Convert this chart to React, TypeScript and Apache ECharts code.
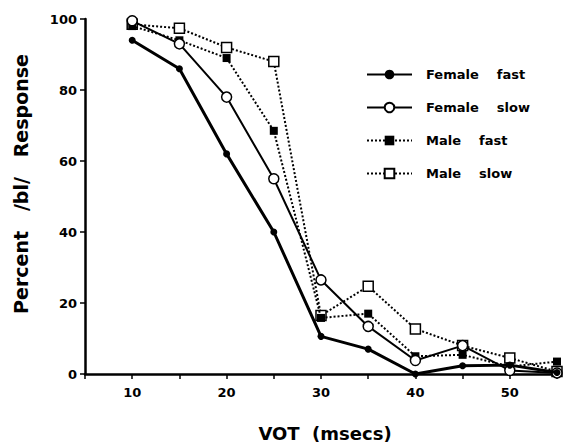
import React, { useEffect, useRef } from "react";
import * as echarts from "echarts";

const vot = [10, 15, 20, 25, 30, 35, 40, 45, 50, 55];
const femaleFast = [94, 86, 62, 40, 10.6, 7, 0, 2.3, 2.5, 0.4];
const femaleSlow = [99.5, 93, 78, 55, 26.5, 13.4, 3.8, 8, 1, 0.3];
const maleFast = [98, 94, 89, 68.5, 15.8, 17, 5, 5.4, 2.1, 3.5];
const maleSlow = [98.5, 97.4, 92, 88, 16.5, 24.7, 12.7, 8, 4.5, 0.7];
const xTicks = [10, 20, 30, 40, 50];
const yTicks = [0, 20, 40, 60, 80, 100];
const seriesNames = ["Female    fast", "Female    slow", "Male    fast", "Male    slow"];
const xTitle = "VOT  (msecs)";
const yTitle = "Percent   /bl/   Response";

const FONT = "DejaVu Sans";

export default function App() {
  const ref = useRef<HTMLDivElement>(null);
  useEffect(() => {
    if (!ref.current) return;
    const chart = echarts.init(ref.current, null, { renderer: "svg" });
    const pair = (arr: number[]) => vot.map((v, i) => [v, arr[i]]);
    chart.setOption({
      animation: false,
      backgroundColor: "#ffffff",
      grid: { left: 85, right: 6, top: 19, bottom: 70 },
      legend: {
        orient: "vertical",
        left: 366,
        top: 68,
        padding: 0,
        itemWidth: 45,
        itemHeight: 12,
        itemGap: 20,
        textStyle: {
          fontFamily: FONT,
          fontWeight: "bold",
          fontSize: 13,
          color: "#000",
          padding: [0, 0, 0, 9],
        },
        data: seriesNames,
      },
      graphic: [
        {
          type: "text",
          x: 325,
          y: 433,
          style: {
            text: xTitle,
            font: `bold 18px "${FONT}"`,
            fill: "#000",
            align: "center",
            verticalAlign: "middle",
          },
        },
        {
          type: "text",
          x: 21,
          y: 184,
          rotation: Math.PI / 2,
          style: {
            text: yTitle,
            font: `bold 19px "${FONT}"`,
            fill: "#000",
            align: "center",
            verticalAlign: "middle",
          },
        },
      ],
      xAxis: {
        type: "value",
        min: 5,
        max: 55,
        interval: 5,
        axisLine: { lineStyle: { color: "#000", width: 2.5 } },
        axisTick: { show: true, length: 5, lineStyle: { color: "#000", width: 1.5 } },
        axisLabel: {
          fontFamily: FONT,
          fontWeight: "bold",
          fontSize: 13,
          color: "#000",
          margin: 12,
          formatter: (v: number) => (xTicks.includes(v) ? String(v) : ""),
        },
        splitLine: { show: false },
      },
      yAxis: {
        type: "value",
        min: 0,
        max: 100,
        interval: 20,
        axisLine: { show: true, lineStyle: { color: "#000", width: 2.5 } },
        axisTick: { show: true, length: 5, lineStyle: { color: "#000", width: 1.5 } },
        axisLabel: {
          fontFamily: FONT,
          fontWeight: "bold",
          fontSize: 13,
          color: "#000",
          margin: 8,
          formatter: (v: number) => (yTicks.includes(v) ? String(v) : ""),
        },
        splitLine: { show: false },
      },
      series: [
        {
          name: seriesNames[3],
          type: "line",
          data: pair(maleSlow),
          symbol: "rect",
          symbolSize: 10,
          lineStyle: { color: "#000", width: 2, type: [2, 2] },
          itemStyle: { color: "#fff", borderColor: "#000", borderWidth: 1.5 },
          z: 2,
        },
        {
          name: seriesNames[2],
          type: "line",
          data: pair(maleFast),
          symbol: "rect",
          symbolSize: 8,
          lineStyle: { color: "#000", width: 2, type: [2, 2] },
          itemStyle: { color: "#000", borderColor: "#000", borderWidth: 0 },
          z: 3,
        },
        {
          name: seriesNames[1],
          type: "line",
          data: pair(femaleSlow),
          symbol: "circle",
          symbolSize: 10,
          lineStyle: { color: "#000", width: 2 },
          itemStyle: { color: "#fff", borderColor: "#000", borderWidth: 1.5 },
          z: 4,
        },
        {
          name: seriesNames[0],
          type: "line",
          data: pair(femaleFast),
          symbol: "circle",
          symbolSize: 7,
          lineStyle: { color: "#000", width: 3 },
          itemStyle: { color: "#000", borderColor: "#000", borderWidth: 0 },
          z: 5,
        },
      ],
    });
    return () => chart.dispose();
  }, []);
  return <div ref={ref} style={{ width: 563, height: 444, position: "absolute", left: 0, top: 0 }} />;
}
